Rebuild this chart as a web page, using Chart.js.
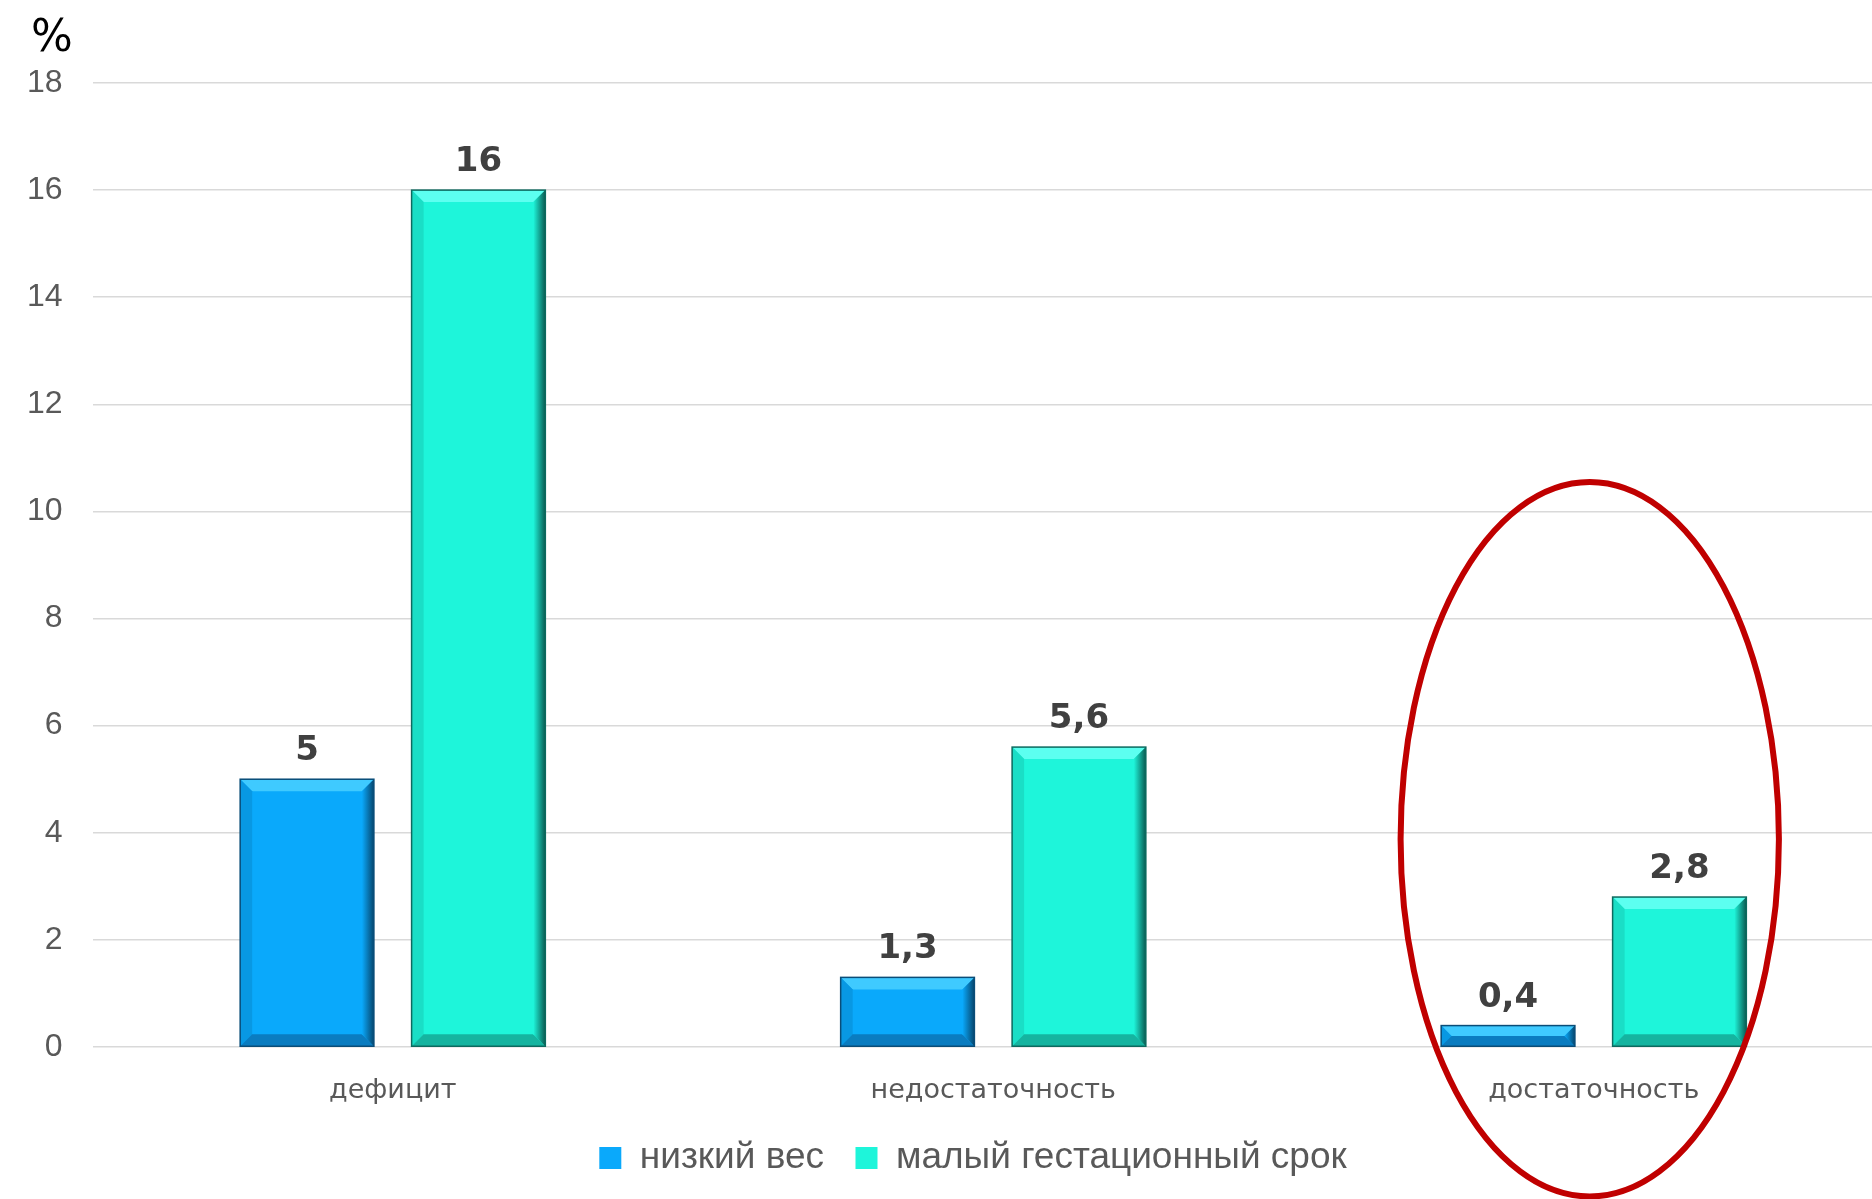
<!DOCTYPE html>
<html>
<head>
<meta charset="utf-8">
<script src="https://cdn.jsdelivr.net/npm/chart.js@4"></script>
<style>
  html, body { margin: 0; padding: 0; background: #fff; overflow: hidden; }
  #wrap { width: 2000px; height: 1199px; }
</style>
</head>
<body>
<div id="wrap"><canvas id="barChart" width="2000" height="1199"></canvas></div>
<script>
// data
const categories = ['дефицит', 'недостаточность', 'достаточность'];
const seriesNames = ['низкий вес', 'малый гестационный срок'];
const lowWeight = [5, 1.3, 0.4];
const smallGestAge = [16, 5.6, 2.8];
const yMin = 0, yMax = 18, yStep = 2;

// bar colours: main, light top, left, bottom, dark right
const palette = [
    { main: '#0aa9fb', top: '#3fcaff', left: '#0898e3', bottom: '#0a7cc0', right: '#06466e', line: '#0a4d78' },
    { main: '#1ef5da', top: '#5cfff0', left: '#1adec6', bottom: '#15b4a0', right: '#0a5a51', line: '#0d6a5f' }
];

const bevelPlugin = {
    id: 'bevel',
    afterDatasetsDraw(chart) {
        const c = chart.ctx;
        chart.data.datasets.forEach((ds, di) => {
            const p = palette[di];
            chart.getDatasetMeta(di).data.forEach((bar) => {
                const l = bar.x - bar.width / 2, r = bar.x + bar.width / 2;
                const t = bar.y, b = bar.base;
                const e = Math.min(12, (b - t) / 2);
                c.save();
                const poly = (pts, fill) => {
                    c.beginPath();
                    c.moveTo(pts[0][0], pts[0][1]);
                    for (let i = 1; i < pts.length; i++) c.lineTo(pts[i][0], pts[i][1]);
                    c.closePath();
                    c.fillStyle = fill;
                    c.fill();
                };
                poly([[l, t], [r, t], [r - e, t + e], [l + e, t + e]], p.top);
                poly([[l, t], [l + e, t + e], [l + e, b - e], [l, b]], p.left);
                poly([[l, b], [r, b], [r - e, b - e], [l + e, b - e]], p.bottom);
                const g = c.createLinearGradient(r - e, 0, r, 0);
                g.addColorStop(0, p.main);
                g.addColorStop(1, p.right);
                poly([[r, t], [r, b], [r - e, b - e], [r - e, t + e]], g);
                c.strokeStyle = p.line;
                c.lineWidth = 1.5;
                c.strokeRect(l, t, r - l, b - t);
                c.restore();
            });
        });
    }
};

const valueLabels = {
    id: 'valueLabels',
    afterDatasetsDraw(chart) {
        const c = chart.ctx;
        c.save();
        c.font = 'bold 34px "DejaVu Sans"';
        c.fillStyle = '#404040';
        c.textAlign = 'center';
        c.textBaseline = 'alphabetic';
        chart.data.datasets.forEach((ds, di) => {
            chart.getDatasetMeta(di).data.forEach((bar, i) => {
                c.fillText(String(ds.data[i]).replace('.', ','), bar.x, bar.y - 19);
            });
        });
        c.restore();
    }
};

const extras = {
    id: 'extras',
    afterLayout(chart) {
        // legend sits a little right of the plot centre
        chart.legend.left += 26;
        chart.legend.right += 26;
    },
    afterDraw(chart) {
        const c = chart.ctx;
        const xs = chart.scales.x, ys = chart.scales.y;
        c.save();
        // unit sign
        c.font = '44px "DejaVu Sans"';
        c.fillStyle = '#000';
        c.textAlign = 'left';
        c.textBaseline = 'alphabetic';
        c.fillText('%', 31, 51);
        // red ellipse around the third group
        const catW = xs.getPixelForValue(1) - xs.getPixelForValue(0);
        const cx = xs.getPixelForValue(2) - 4;
        const cy = ys.getPixelForValue(3.88);
        const ry = ys.getPixelForValue(0) - ys.getPixelForValue(6.67);
        c.beginPath();
        c.ellipse(cx, cy, catW * 0.315, ry, 0, 0, Math.PI * 2);
        c.strokeStyle = '#c00000';
        c.lineWidth = 6;
        c.stroke();
        c.restore();
    }
};

const ctx = document.getElementById('barChart').getContext('2d');
new Chart(ctx, {
    type: 'bar',
    data: {
        labels: categories,
        datasets: [{
            label: seriesNames[0],
            data: lowWeight,
            backgroundColor: palette[0].main,
            categoryPercentage: 0.571,
            barPercentage: 0.78
        }, {
            label: seriesNames[1],
            data: smallGestAge,
            backgroundColor: palette[1].main,
            categoryPercentage: 0.571,
            barPercentage: 0.78
        }]
    },
    options: {
        responsive: false,
        animation: false,
        layout: {
            padding: { left: 0, right: 106, top: 83, bottom: 12.5 }
        },
        scales: {
            x: {
                afterFit(scale) { scale.height = 61; },
                grid: { display: false, drawTicks: false },
                border: { display: false },
                ticks: {
                    color: '#595959',
                    font: { family: '"DejaVu Sans"', size: 27 },
                    padding: 28
                }
            },
            y: {
                min: yMin,
                max: yMax,
                afterFit(scale) { scale.width = 92.5; },
                border: { display: false },
                grid: { color: '#d9d9d9', lineWidth: 1.5, drawTicks: false },
                ticks: {
                    stepSize: yStep,
                    color: '#595959',
                    font: { family: '"Liberation Sans"', size: 32 },
                    padding: 30
                }
            }
        },
        plugins: {
            legend: {
                position: 'bottom',
                labels: {
                    color: '#595959',
                    font: { family: '"Liberation Sans"', size: 37 },
                    boxWidth: 22,
                    boxHeight: 22,
                    padding: 31.5
                }
            },
            tooltip: { enabled: false }
        }
    },
    plugins: [bevelPlugin, valueLabels, extras]
});
</script>
</body>
</html>
